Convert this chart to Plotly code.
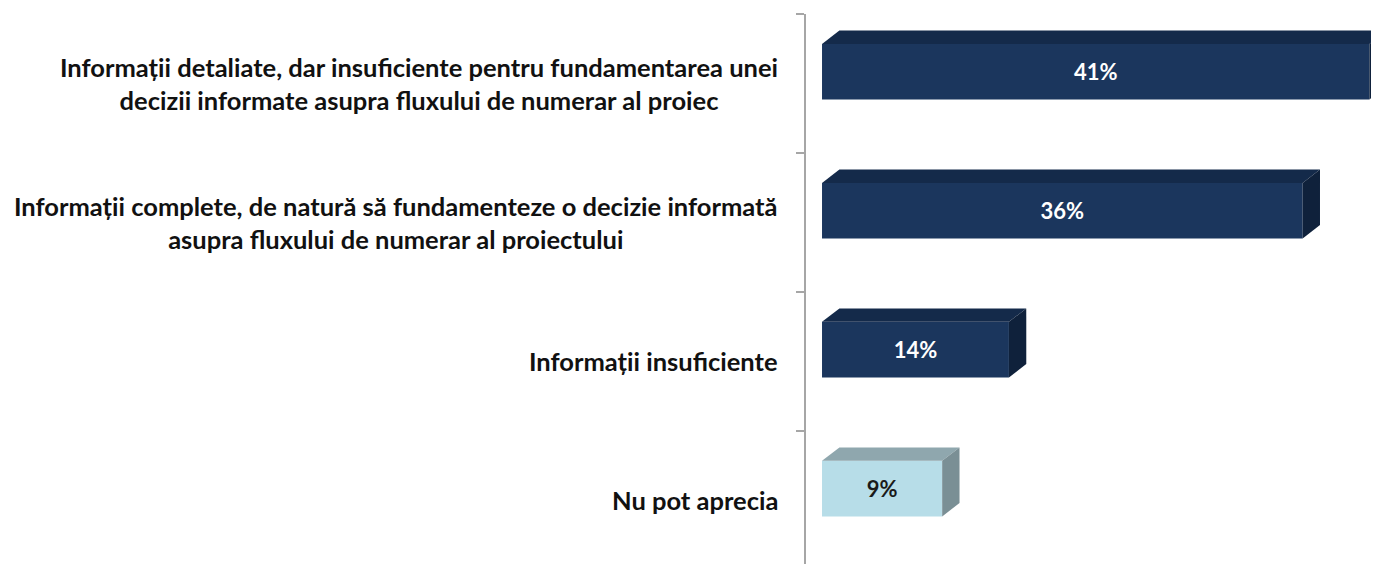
import plotly.graph_objects as go

categories = [
    "Informații detaliate, dar insuficiente pentru fundamentarea unei<br>decizii informate asupra fluxului de numerar al proiec",
    "Informații complete, de natură să fundamenteze o decizie informată<br>asupra fluxului de numerar al proiectului",
    "Informații insuficiente",
    "Nu pot aprecia",
]
values = [41, 36, 14, 9]
value_labels = ["41%", "36%", "14%", "9%"]

front_colors = ["#1b365d", "#1b365d", "#1b365d", "#b7dde8"]
top_colors = ["#142a4a", "#142a4a", "#142a4a", "#8fa7ae"]
side_colors = ["#0f213b", "#0f213b", "#0f213b", "#7a8f95"]
text_colors = ["#ffffff", "#ffffff", "#ffffff", "#1a1a1a"]

FONT = "Lato, Carlito, Calibri, Open Sans, sans-serif"

pos = list(range(len(categories)))
W = 0.4
OFF = -0.285
DX = 1.3    # depth in x units
DY = 0.097  # depth in category units

fig = go.Figure()
fig.add_trace(go.Bar(
    x=values, y=pos, orientation="h",
    width=W, offset=OFF,
    marker=dict(color=front_colors, line=dict(width=0)),
    text=value_labels, textposition="inside", insidetextanchor="middle",
    textangle=0, constraintext="none",
    textfont=dict(family=FONT, size=22, color=text_colors, weight="bold"),
    hoverinfo="skip",
))

shapes = []
for i, v in enumerate(values):
    yt = pos[i] + OFF
    yb = yt + W
    shapes.append(dict(
        type="path", xref="x", yref="y", layer="above", line=dict(width=0),
        fillcolor=top_colors[i],
        path=f"M 0,{yt} L {v},{yt} L {v+DX},{yt-DY} L {DX},{yt-DY} Z",
    ))
    shapes.append(dict(
        type="path", xref="x", yref="y", layer="above", line=dict(width=0),
        fillcolor=side_colors[i],
        path=f"M {v},{yt} L {v+DX},{yt-DY} L {v+DX},{yb-DY} L {v},{yb} Z",
    ))

annotations = []
for i, c in enumerate(categories):
    annotations.append(dict(
        text=c, xref="paper", yref="y", x=0, y=pos[i], xanchor="right",
        yanchor="middle", xshift=-26, yshift=0,
        align="center", showarrow=False,
        font=dict(family=FONT, size=25.5, color="#111111", weight="bold"),
    ))

fig.update_layout(
    width=1371, height=556,
    margin=dict(l=798, r=0, t=6, b=0),
    paper_bgcolor="white", plot_bgcolor="white",
    showlegend=False,
    shapes=shapes, annotations=annotations,
    xaxis=dict(range=[-1.2, 41.72], visible=False, fixedrange=True),
    yaxis=dict(
        range=[3.457, -0.5], showgrid=False, zeroline=False,
        showline=True, linecolor="#a6a6a6", linewidth=2,
        tickvals=[-0.5, 0.5, 1.5, 2.5], ticks="outside", ticklen=8,
        tickcolor="#a6a6a6", tickwidth=1.5, showticklabels=False,
    ),
)

fig.write_html("out.html")
